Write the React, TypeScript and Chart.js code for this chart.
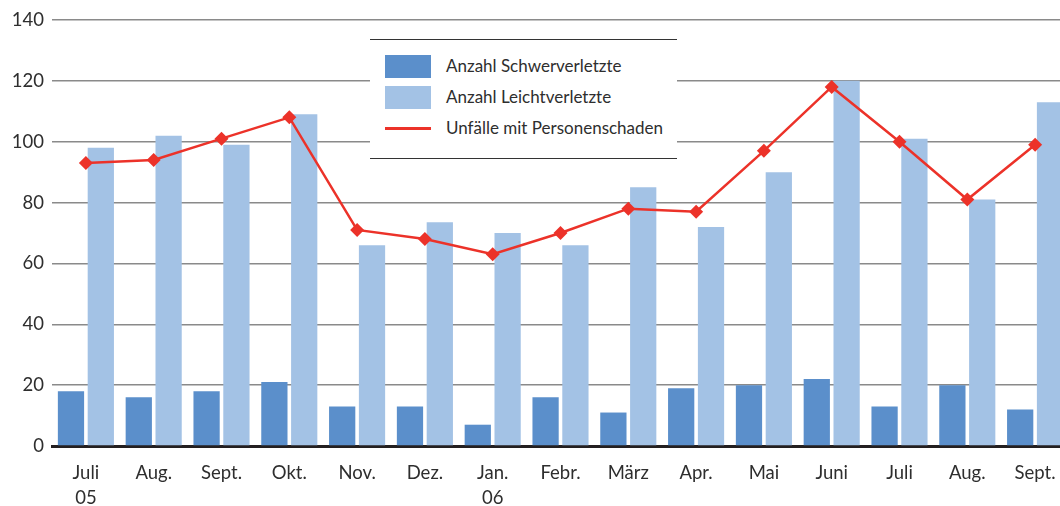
import React, { useEffect, useRef } from "react";
import { Chart, registerables } from "chart.js";
Chart.register(...registerables);

const months: (string | string[])[] = [["Juli", "05"], "Aug.", "Sept.", "Okt.", "Nov.", "Dez.", ["Jan.", "06"], "Febr.", "März", "Apr.", "Mai", "Juni", "Juli", "Aug.", "Sept."];
const schwerverletzte = [18, 16, 18, 21, 13, 13, 7, 16, 11, 19, 20, 22, 13, 20, 12];
const leichtverletzte = [98, 102, 99, 109, 66, 73.5, 70, 66, 85, 72, 90, 120, 101, 81, 113];
const unfaelle = [93, 94, 101, 108, 71, 68, 63, 70, 78, 77, 97, 118, 100, 81, 99];
const yMin = 0;
const yMax = 140;
const yStep = 20;

const DARK = "#5b8fcb";
const LIGHT = "#a3c2e5";
const RED = "#ec3229";
const TEXT = "#2e2e2e";
const FONT = "Lato, 'Noto Sans', sans-serif";

const legendItems = [
  { label: "Anzahl Schwerverletzte", color: DARK, kind: "box" },
  { label: "Anzahl Leichtverletzte", color: LIGHT, kind: "box" },
  { label: "Unfälle mit Personenschaden", color: RED, kind: "line" },
];

export default function App() {
  const ref = useRef<HTMLCanvasElement | null>(null);
  useEffect(() => {
    if (!ref.current) return;
    const chart = new Chart(ref.current, {
      type: "bar",
      data: {
        labels: months as any,
        datasets: [
          {
            type: "line" as any,
            label: legendItems[2].label,
            data: unfaelle,
            borderColor: RED,
            backgroundColor: RED,
            borderWidth: 2.5,
            pointStyle: "rectRot",
            pointRadius: 7,
            pointBackgroundColor: RED,
            pointBorderColor: RED,
            pointBorderWidth: 0,
            tension: 0,
            order: 0,
          } as any,
          {
            label: legendItems[0].label,
            data: schwerverletzte,
            backgroundColor: DARK,
            categoryPercentage: 0.88,
            barPercentage: 0.88,
            order: 1,
          },
          {
            label: legendItems[1].label,
            data: leichtverletzte,
            backgroundColor: LIGHT,
            categoryPercentage: 0.88,
            barPercentage: 0.88,
            order: 1,
          },
        ],
      },
      options: {
        responsive: false,
        maintainAspectRatio: false,
        animation: false,
        layout: { padding: { top: 20, left: 0, right: 1, bottom: 0 } },
        plugins: { legend: { display: false }, tooltip: { enabled: false } },
        scales: {
          x: {
            grid: { display: false },
            border: { display: true, color: "#231f20", width: 3 },
            ticks: {
              color: TEXT,
              font: { family: FONT, size: 18.5, lineHeight: 1.35 },
              padding: 7,
              maxRotation: 0,
              autoSkip: false,
            },
            afterFit: (s: any) => {
              s.height = 60;
            },
          },
          y: {
            min: yMin,
            max: yMax,
            ticks: {
              stepSize: yStep,
              color: TEXT,
              font: { family: FONT, size: 18.5 },
              padding: 8,
            },
            grid: {
              drawTicks: false,
              lineWidth: 1.5,
              color: (c: any) => (c.tick && c.tick.value === 0 ? "rgba(0,0,0,0)" : "#8a8a8a"),
            },
            border: { display: false },
            afterFit: (s: any) => {
              s.width = 52;
            },
          },
        },
      },
    });
    return () => chart.destroy();
  }, []);

  return (
    <div style={{ position: "fixed", left: 0, top: 0, width: 1060, height: 506, overflow: "hidden", background: "#fff" }}>
      <canvas ref={ref} width={1076} height={506} style={{ position: "absolute", left: 0, top: 0 }} />
      <div
        style={{
          position: "absolute",
          left: 370,
          top: 39,
          width: 307,
          height: 120,
          boxSizing: "border-box",
          borderTop: "1px solid #333",
          borderBottom: "1px solid #333",
          background: "#fff",
          fontFamily: FONT,
          fontSize: 17,
          color: TEXT,
        }}
      >
        {legendItems.map((it, i) => (
          <div key={i} style={{ position: "absolute", left: 0, top: 27 + i * 31 - 12, height: 24, width: 307 }}>
            {it.kind === "box" ? (
              <div style={{ position: "absolute", left: 15, top: 0, width: 46, height: 23, background: it.color }} />
            ) : (
              <div style={{ position: "absolute", left: 15, top: 10, width: 46, height: 3, background: it.color }} />
            )}
            <div style={{ position: "absolute", left: 76, top: -1, lineHeight: "24px", whiteSpace: "nowrap" }}>{it.label}</div>
          </div>
        ))}
      </div>
    </div>
  );
}
